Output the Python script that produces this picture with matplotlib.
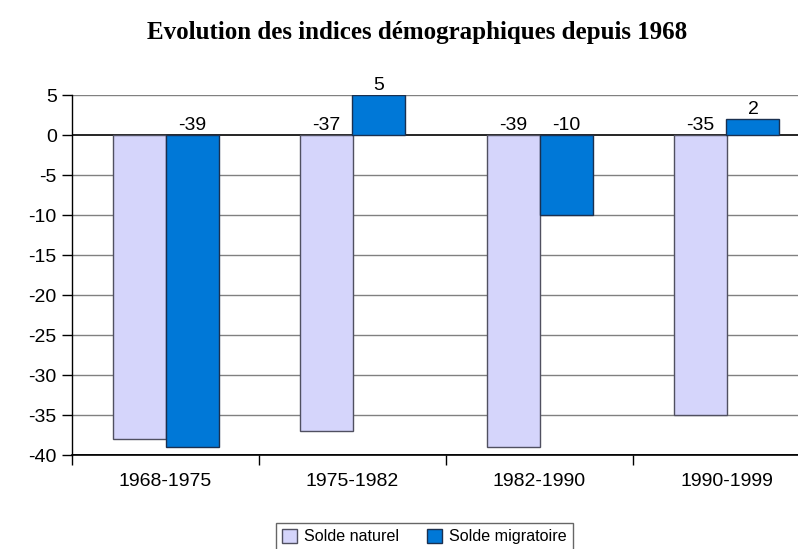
import matplotlib.pyplot as plt
import numpy as np

periods = ["1968-1975", "1975-1982", "1982-1990", "1990-1999"]
solde_naturel = [-38, -37, -39, -35]
solde_migratoire = [-39, 5, -10, 2]
# the first "naturel" label is not shown in the original chart
show_naturel_label = [False, True, True, True]
yticks = [5, 0, -5, -10, -15, -20, -25, -30, -35, -40]


def label_y(v):
    return v + 0.6 if v > 0 else 0.6


def main():
    plt.rcParams["font.family"] = ["Liberation Sans", "DejaVu Sans"]
    fig = plt.figure(figsize=(7.98, 5.49), dpi=100)
    ax = fig.add_axes([72 / 798, 1 - 455 / 549, 748 / 798, 360 / 549])

    x = np.arange(len(periods))
    w = 53 / 187
    ax.bar(x - w / 2, solde_naturel, w, color="#d5d5fb", edgecolor="#505060",
           linewidth=1, label="Solde naturel", zorder=3)
    ax.bar(x + w / 2, solde_migratoire, w, color="#0078d7", edgecolor="#1a3050",
           linewidth=1, label="Solde migratoire", zorder=3)

    for i in range(len(periods)):
        if show_naturel_label[i]:
            ax.text(x[i] - w / 2, label_y(solde_naturel[i]), str(solde_naturel[i]),
                    ha="center", va="baseline", fontsize=14, zorder=4)
        ax.text(x[i] + w / 2, label_y(solde_migratoire[i]), str(solde_migratoire[i]),
                ha="center", va="baseline", fontsize=14, zorder=4)

    ax.set_xlim(-0.5, len(periods) - 0.5)
    ax.set_ylim(-40, 5)
    ax.set_yticks(yticks)
    ax.set_yticklabels([str(t) for t in yticks], fontsize=14)
    for t in yticks:
        if t in (0, -40):
            ax.axhline(t, color="black", lw=1.2, zorder=2)
        else:
            ax.axhline(t, color="#808080", lw=1, zorder=1)

    ax.set_xticks(x)
    ax.set_xticklabels(periods, fontsize=14)
    ax.set_xticks(np.arange(len(periods) + 1) - 0.5, minor=True)
    ax.tick_params(axis="x", which="major", length=0, pad=13)
    ax.tick_params(axis="x", which="minor", length=7, width=1, direction="out")
    ax.tick_params(axis="y", length=7, width=1, direction="out", pad=4)

    for s in ("top", "right"):
        ax.spines[s].set_visible(False)
    ax.spines["left"].set_linewidth(1)
    ax.spines["bottom"].set_linewidth(1.2)

    fig.text(417 / 798, 1 - 32 / 549, "Evolution des indices démographiques depuis 1968",
             ha="center", va="center", fontsize=18, fontweight="bold",
             family=["Liberation Serif", "DejaVu Serif"])

    leg = fig.legend(loc="upper left", bbox_to_anchor=(276 / 798, 1 - 523 / 549), ncol=2,
                     fontsize=11.6, frameon=True, fancybox=False, edgecolor="#404040",
                     handlelength=0.95, handleheight=1.0, handletextpad=0.45,
                     columnspacing=1.7, borderpad=0.35, borderaxespad=0)
    leg.get_frame().set_linewidth(1)

    fig.savefig("out.png", dpi=100)


if __name__ == "__main__":
    main()
